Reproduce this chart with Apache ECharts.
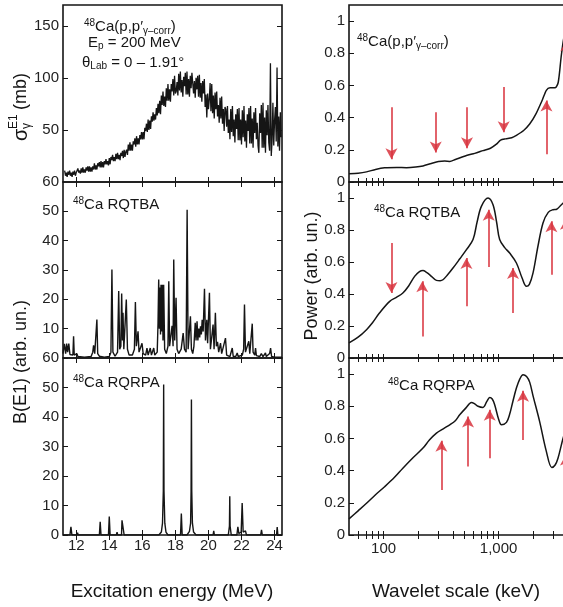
<!DOCTYPE html>
<html>
<head>
<meta charset="utf-8">
<script src="https://cdn.jsdelivr.net/npm/echarts@6/dist/echarts.min.js"></script>
<style>
  html, body { margin: 0; background: #fff; }
  #main { width: 563px; height: 607px; }
</style>
</head>
<body>
<div id="main"></div>
<script>
// ---- left column: excitation energy spectra ----
const energyTicks = [12, 14, 16, 18, 20, 22, 24];
const sigmaTicks = [50, 100, 150];
const rqtbaTicks = [10, 20, 30, 40, 50, 60];
const rqrpaTicks = [0, 10, 20, 30, 40, 50, 60];

// measured cross section, one value every 0.05 MeV starting at 11.3 MeV
const expStart = 11.3;
const expStep = 0.05;
const expSigma = [
  11, 6, 9, 5, 10, 7, 11, 6, 9, 5, 10, 7, 11, 6, 9,
  9, 13, 9, 11, 8, 13, 9, 14, 9, 12, 9, 14, 11, 15, 10, 15, 10, 14, 10, 15,
  12, 18, 12, 16, 12, 18, 15, 19, 14, 20, 14, 19, 14, 20, 17, 22, 17, 20, 16, 23,
  17, 24, 21, 26, 20, 24, 20, 27, 22, 28, 22, 26, 21, 28, 25, 30, 23, 31, 24, 29,
  31, 26, 36, 30, 38, 30, 36, 30, 39, 36, 42, 34, 44, 36, 42, 36, 45, 41, 48, 41,
  48, 41, 52, 49, 56, 48, 60, 50, 59, 51, 63, 58, 67, 59, 65, 60, 71, 64, 75, 66,
  78, 65, 83, 74, 87, 73, 82, 72, 90, 78, 94, 78, 89, 77, 94, 87, 99, 83, 102, 85,
  87, 96, 83, 104, 88, 106, 86, 98, 82, 101, 92, 105, 84, 106, 84, 99, 82, 102, 90, 105,
  106, 85, 97, 81, 100, 89, 102, 82, 103, 81, 95, 77, 97, 85, 99, 72, 84, 62, 85, 70,
  79, 95, 68, 94, 66, 83, 61, 86, 70, 87, 63, 74, 57, 81, 61, 82, 56, 70, 49, 72,
  70, 53, 73, 47, 60, 41, 70, 48, 73, 44, 60, 38, 65, 51, 70, 40, 71, 40, 60, 36,
  69, 43, 73, 39, 59, 33, 65, 49, 71, 37, 73, 37, 61, 33, 67, 47, 71, 41, 57, 35,
  28, 66, 47, 74, 33, 76, 33, 62, 28, 69, 45, 74, 38, 30, 114, 25, 40, 76, 35, 59,
  72, 39, 110, 34, 63, 30, 67, 43
];

// RQTBA strength function [E (MeV), B(E1)]
const rqtbaSpectrum = [
  [11.2, 1.5], [11.28, 4.8], [11.36, 1.5], [11.42, 4.9], [11.48, 2], [11.55, 4.9], [11.62, 1.2],
  [11.7, 0.8], [11.8, 1], [11.84, 7.4], [11.88, 1], [12.0, 0.8], [12.04, 1.5], [12.1, 0.5],
  [12.5, 0.3], [12.9, 0.5], [13.0, 2], [13.05, 4.3], [13.12, 1.5], [13.2, 2], [13.25, 13.1],
  [13.3, 1.5], [13.4, 0.6], [13.7, 0.3], [14.0, 0.5], [14.1, 2], [14.16, 30.2], [14.22, 2],
  [14.35, 0.6], [14.5, 2], [14.57, 22.8], [14.63, 3], [14.7, 4], [14.75, 22], [14.8, 6],
  [14.83, 15.4], [14.88, 3], [14.97, 3], [15.03, 19.9], [15.1, 3], [15.2, 1], [15.4, 1],
  [15.52, 3], [15.58, 19.1], [15.64, 4], [15.7, 4], [15.74, 9.1], [15.8, 2], [15.9, 1.5],
  [15.98, 5], [16.05, 1.5], [16.2, 1], [16.28, 3.4], [16.35, 1], [16.42, 1], [16.48, 3.4],
  [16.55, 1], [16.64, 1.5], [16.69, 3.4], [16.75, 1], [16.9, 2], [16.95, 12], [16.99, 26.8],
  [17.03, 10], [17.07, 24], [17.1, 8], [17.13, 25], [17.17, 9], [17.21, 25], [17.25, 6],
  [17.29, 25], [17.35, 3], [17.45, 1.5], [17.55, 4], [17.6, 26.2], [17.65, 4], [17.72, 4],
  [17.8, 11], [17.86, 4], [17.9, 33.6], [17.96, 6], [18.04, 20.5], [18.1, 3], [18.2, 1.5],
  [18.35, 3], [18.47, 8.5], [18.55, 3], [18.65, 2], [18.71, 50.5], [18.77, 3], [18.85, 3],
  [18.91, 14.2], [18.97, 3], [19.05, 1.5], [19.12, 4], [19.2, 12], [19.25, 6], [19.31, 12.5],
  [19.36, 6], [19.42, 10], [19.47, 7], [19.52, 10.8], [19.57, 8], [19.62, 13], [19.68, 9],
  [19.76, 23.6], [19.82, 6], [19.9, 13], [19.95, 5], [20.06, 22.2], [20.12, 3], [20.2, 3],
  [20.28, 11.4], [20.34, 3], [20.42, 15.4], [20.48, 4], [20.55, 5.5], [20.62, 2], [20.73, 5.1],
  [20.8, 1.5], [20.9, 1.5], [21.03, 6.8], [21.1, 1], [21.3, 0.5], [21.44, 3.4], [21.5, 0.5],
  [21.65, 0.5], [21.74, 1.7], [21.8, 0.5], [22.05, 1], [22.13, 3], [22.18, 18.2], [22.24, 2],
  [22.35, 1.5], [22.44, 5.7], [22.5, 1.5], [22.6, 2], [22.65, 11.7], [22.7, 2], [22.8, 1],
  [22.85, 3.4], [22.9, 0.8], [23.1, 0.5], [23.2, 1.5], [23.3, 0.5], [23.45, 1.7], [23.5, 0.5],
  [23.7, 1.5], [23.76, 3.4], [23.82, 0.5], [24.0, 0.3], [24.45, 0.3]
];

// RQRPA strength function [E (MeV), B(E1)]
const rqrpaSpectrum = [
  [11.2, 0], [11.62, 0], [11.68, 2.8], [11.74, 0], [12.04, 0], [12.08, 0.8], [12.12, 0],
  [13.4, 0], [13.45, 4.5], [13.5, 0], [13.95, 0], [14.0, 6.3], [14.05, 0], [14.43, 0],
  [14.47, 1], [14.51, 0], [14.74, 0], [14.77, 5], [14.82, 4.5], [14.87, 5], [14.9, 0],
  [17.0, 0], [17.15, 1], [17.22, 4], [17.27, 15], [17.29, 51], [17.31, 15], [17.36, 4],
  [17.43, 1], [17.55, 0], [18.31, 0], [18.36, 7.3], [18.41, 0], [18.7, 0], [18.85, 1.2],
  [18.92, 4], [18.95, 15], [18.97, 45.9], [18.99, 15], [19.03, 4], [19.1, 1], [19.25, 0],
  [20.28, 0], [20.32, 1.4], [20.36, 0], [20.94, 0], [20.97, 0.5], [21.0, 0], [21.2, 0],
  [21.27, 3], [21.29, 13.1], [21.31, 3], [21.38, 0], [21.72, 0], [21.78, 2.8], [21.84, 0.5],
  [21.98, 1], [22.04, 10.8], [22.1, 1], [22.24, 1.4], [22.3, 0], [23.16, 0], [23.21, 1.7],
  [23.26, 0], [24.12, 0], [24.16, 2.7], [24.2, 0], [24.45, 0]
];

// ---- right column: wavelet power spectra [scale (keV), power] ----
const scaleLabels = [100, 1000];
const scaleTicks = [60, 70, 80, 90, 100, 200, 300, 400, 500, 600, 700, 800, 900, 1000, 2000, 3000, 4000, 5000];
const powerTicks = [0, 0.2, 0.4, 0.6, 0.8, 1];

const powerExp = [
  [50, 0.052], [60, 0.055], [71, 0.063], [85, 0.078], [102, 0.088], [130, 0.09], [158, 0.089],
  [190, 0.093], [220, 0.1], [260, 0.115], [300, 0.127], [340, 0.13], [376, 0.128], [420, 0.14],
  [525, 0.165], [620, 0.178], [731, 0.195], [850, 0.21], [957, 0.235], [1040, 0.26], [1150, 0.268],
  [1300, 0.275], [1428, 0.29], [1650, 0.32], [1862, 0.36], [2100, 0.42], [2400, 0.51], [2600, 0.57],
  [2800, 0.585], [3100, 0.585], [3300, 0.62], [3500, 0.78], [3700, 0.9], [4000, 0.97], [5000, 1.0]
];
const powerRqtba = [
  [50, 0.094], [60, 0.13], [71, 0.177], [80, 0.22], [92, 0.281], [113, 0.354], [130, 0.38],
  [147, 0.406], [165, 0.45], [186, 0.51], [205, 0.54], [220, 0.547], [236, 0.535], [252, 0.52],
  [288, 0.485], [310, 0.483], [328, 0.489], [360, 0.52], [401, 0.562], [460, 0.62], [525, 0.677],
  [599, 0.74], [650, 0.85], [708, 0.948], [809, 1.0], [894, 0.958], [960, 0.85], [1021, 0.74],
  [1130, 0.69], [1247, 0.656], [1428, 0.594], [1600, 0.5], [1745, 0.448], [1850, 0.46],
  [1990, 0.53], [2200, 0.7], [2432, 0.844], [2700, 0.91], [2972, 0.927], [3200, 0.93],
  [3515, 0.958], [4000, 0.99], [5000, 1.0]
];
const powerRqrpa = [
  [50, 0.1], [60, 0.15], [71, 0.197], [85, 0.25], [102, 0.3], [125, 0.36], [147, 0.415],
  [180, 0.48], [220, 0.54], [250, 0.59], [288, 0.633], [330, 0.66], [376, 0.685], [420, 0.71],
  [459, 0.747], [520, 0.79], [580, 0.824], [620, 0.815], [662, 0.8], [731, 0.793], [790, 0.83],
  [837, 0.855], [880, 0.845], [924, 0.81], [1000, 0.72], [1060, 0.685], [1170, 0.7], [1247, 0.75],
  [1330, 0.83], [1428, 0.913], [1530, 0.97], [1630, 0.996], [1750, 0.985], [1862, 0.95],
  [2000, 0.86], [2274, 0.705], [2600, 0.52], [2900, 0.42], [3100, 0.435], [3283, 0.477],
  [3630, 0.6], [4200, 0.75], [5000, 0.85]
];

// red arrows: scale, power at tail, power at head
const arrowsExpScale = [117, 284, 531, 1107, 2606, 3870];
const arrowsExpFrom  = [0.465, 0.434, 0.465, 0.59, 0.173, 0.6];
const arrowsExpTo    = [0.142, 0.184, 0.209, 0.309, 0.506, 0.88];
const arrowsRqtbaScale = [117, 217, 525, 820, 1334, 2877, 3850];
const arrowsRqtbaFrom  = [0.719, 0.135, 0.323, 0.569, 0.281, 0.52, 0.55];
const arrowsRqtbaTo    = [0.406, 0.48, 0.625, 0.927, 0.563, 0.854, 0.87];
const arrowsRqrpaScale = [318, 542, 837, 1630, 3850];
const arrowsRqrpaFrom  = [0.28, 0.425, 0.477, 0.59, 0.15];
const arrowsRqrpaTo    = [0.585, 0.736, 0.778, 0.896, 0.5];

const FONT = '"Liberation Sans", Arial, sans-serif';
const INK = '#151515';
const ARROW = '#d8343e';

const rows = [
  { top: 5, height: 177 },
  { top: 182, height: 176 },
  { top: 358, height: 177 }
];
const leftCol = { left: 63, width: 219 };
const rightCol = { left: 349, width: 230 };

const grid = [];
const xAxis = [];
const yAxis = [];

function tickStyle(values, len) {
  return { show: true, inside: true, length: len || 5, customValues: values, lineStyle: { color: INK, width: 1 } };
}
function labelStyle(values, show, extra) {
  return Object.assign({
    show: show, customValues: values, color: '#222', fontFamily: FONT, fontSize: 15, margin: 4
  }, extra || {});
}

function addPanel(col, row, xa, ya) {
  const g = grid.length;
  grid.push({
    left: col.left, width: col.width, top: rows[row].top, height: rows[row].height,
    outerBoundsMode: 'none', containLabel: false,
    show: true, borderColor: INK, borderWidth: 1.6, backgroundColor: 'transparent'
  });
  const xi = xAxis.length;
  // bottom axis with labels, plus a mirrored top axis for the tick marks
  xAxis.push(Object.assign({ gridIndex: g, position: 'bottom' }, xa.main));
  xAxis.push(Object.assign({ gridIndex: g, position: 'top' }, xa.mirror));
  const yi = yAxis.length;
  yAxis.push(Object.assign({ gridIndex: g, position: 'left' }, ya.main));
  yAxis.push(Object.assign({ gridIndex: g, position: 'right' }, ya.mirror));
  return { xi: xi, yi: yi };
}

function energyAxis(showLabels) {
  const base = { type: 'value', min: 11.2, max: 24.45, axisLine: { show: false }, splitLine: { show: false } };
  return {
    main: Object.assign({}, base, { axisTick: tickStyle(energyTicks), axisLabel: labelStyle(energyTicks, showLabels, { margin: 3 }) }),
    mirror: Object.assign({}, base, { axisTick: tickStyle(energyTicks), axisLabel: { show: false } })
  };
}
function scaleAxis(showLabels) {
  const base = { type: 'log', logBase: 10, min: 50, max: 5000, axisLine: { show: false }, splitLine: { show: false }, minorSplitLine: { show: false } };
  return {
    main: Object.assign({}, base, {
      axisTick: tickStyle(scaleTicks, 4),
      axisLabel: labelStyle(scaleLabels, showLabels, {
        margin: 6,
        formatter: function (v) { return String(Math.round(v)).replace(/\B(?=(\d{3})+(?!\d))/g, ','); }
      })
    }),
    mirror: Object.assign({}, base, { axisTick: tickStyle(scaleTicks, 4), axisLabel: { show: false } })
  };
}
function valueAxis(max, ticks, labels) {
  const base = { type: 'value', min: 0, max: max, axisLine: { show: false }, splitLine: { show: false } };
  return {
    main: Object.assign({}, base, { axisTick: tickStyle(ticks), axisLabel: labelStyle(labels, true) }),
    mirror: Object.assign({}, base, { axisTick: tickStyle(ticks), axisLabel: { show: false } })
  };
}

const pTopL = addPanel(leftCol, 0, energyAxis(false), valueAxis(170, sigmaTicks, sigmaTicks));
const pMidL = addPanel(leftCol, 1, energyAxis(false), valueAxis(60, rqtbaTicks.slice(0, 5), rqtbaTicks));
const pBotL = addPanel(leftCol, 2, energyAxis(true), valueAxis(60, rqrpaTicks, rqrpaTicks));
const pTopR = addPanel(rightCol, 0, scaleAxis(false), valueAxis(1.1, powerTicks, powerTicks));
const pMidR = addPanel(rightCol, 1, scaleAxis(false), valueAxis(1.1, powerTicks, powerTicks));
const pBotR = addPanel(rightCol, 2, scaleAxis(true), valueAxis(1.1, powerTicks, powerTicks));

function arrows(scale, from, to) {
  return {
    silent: true,
    symbol: ['none', 'arrow'],
    symbolSize: [9, 11],
    label: { show: false },
    lineStyle: { color: ARROW, width: 1.8, type: 'solid', opacity: 0.85 },
    data: scale.map(function (s, i) {
      return [{ coord: [s, from[i]] }, { coord: [s, to[i]] }];
    })
  };
}

function curve(p, data, smooth, marks, width) {
  const s = {
    type: 'line', xAxisIndex: p.xi, yAxisIndex: p.yi, data: data,
    showSymbol: false, symbol: 'none', smooth: smooth || false,
    lineStyle: { color: INK, width: width || 1.4 }, clip: true, silent: true
  };
  if (marks) s.markLine = marks;
  return s;
}

const series = [
  curve(pTopL, expSigma.map(function (v, i) { return [+(expStart + i * expStep).toFixed(2), v]; }), false, null, 1.3),
  curve(pMidL, rqtbaSpectrum),
  curve(pBotL, rqrpaSpectrum),
  curve(pTopR, powerExp, 0.25, arrows(arrowsExpScale, arrowsExpFrom, arrowsExpTo), 1.5),
  curve(pMidR, powerRqtba, 0.35, arrows(arrowsRqtbaScale, arrowsRqtbaFrom, arrowsRqtbaTo), 1.5),
  curve(pBotR, powerRqrpa, 0.35, arrows(arrowsRqrpaScale, arrowsRqrpaFrom, arrowsRqrpaTo), 1.5)
];

const rich = {
  sup: { fontSize: 10, fontFamily: FONT, fill: INK, verticalAlign: 'top', padding: [0, 0, 8, 0] },
  sub: { fontSize: 10, fontFamily: FONT, fill: INK, padding: [8, 0, 0, 0] },
  m: { fontSize: 15, fontFamily: FONT, fill: INK }
};
function label(x, y, text) {
  return { type: 'text', left: x, top: y, silent: true,
    style: { text: text, rich: rich, fill: INK, font: '15px ' + FONT, verticalAlign: 'middle' } };
}
function vtitle(x, y, text) {
  return { type: 'text', x: x, y: y, rotation: Math.PI / 2, silent: true,
    style: { text: text, fill: INK, font: '18px ' + FONT, align: 'center', verticalAlign: 'middle' } };
}

const graphic = [
  label(84, 18, '{sup|48}{m|Ca(p,p′}{sub|γ–corr}{m|)}'),
  label(88, 35, '{m|E}{sub|p}{m| = 200 MeV}'),
  label(82, 55, '{m|θ}{sub|Lab}{m| = 0 – 1.91°}'),
  label(73, 196, '{sup|48}{m|Ca RQTBA}'),
  label(73, 374, '{sup|48}{m|Ca RQRPA}'),
  label(357, 33, '{sup|48}{m|Ca(p,p′}{sub|γ–corr}{m|)}'),
  label(374, 204, '{sup|48}{m|Ca RQTBA}'),
  label(388, 377, '{sup|48}{m|Ca RQRPA}'),
  // sigma title, stacked super/subscript
  {
    type: 'group', x: 21, y: 104, rotation: Math.PI / 2, silent: true,
    children: [
      { type: 'text', x: -37, y: 0, style: { text: 'σ', fill: INK, font: '20px ' + FONT, verticalAlign: 'middle' } },
      { type: 'text', x: -25, y: -7, style: { text: 'E1', fill: INK, font: '12px ' + FONT, verticalAlign: 'middle' } },
      { type: 'text', x: -25, y: 6, style: { text: 'γ', fill: INK, font: '12px ' + FONT, verticalAlign: 'middle' } },
      { type: 'text', x: -6, y: 0, style: { text: '(mb)', fill: INK, font: '18px ' + FONT, verticalAlign: 'middle' } }
    ]
  },
  vtitle(21, 362, 'B(E1) (arb. un.)'),
  vtitle(312, 276, 'Power (arb. un.)'),
  { type: 'text', x: 172, y: 592, silent: true,
    style: { text: 'Excitation energy (MeV)', fill: INK, font: '19px ' + FONT, align: 'center', verticalAlign: 'middle' } },
  { type: 'text', x: 456, y: 592, silent: true,
    style: { text: 'Wavelet scale (keV)', fill: INK, font: '19px ' + FONT, align: 'center', verticalAlign: 'middle' } }
];

const myChart = echarts.init(document.getElementById('main'), null, { renderer: 'canvas' });
myChart.setOption({
  animation: false,
  backgroundColor: '#fff',
  grid: grid,
  xAxis: xAxis,
  yAxis: yAxis,
  series: series,
  graphic: graphic
});
</script>
</body>
</html>
